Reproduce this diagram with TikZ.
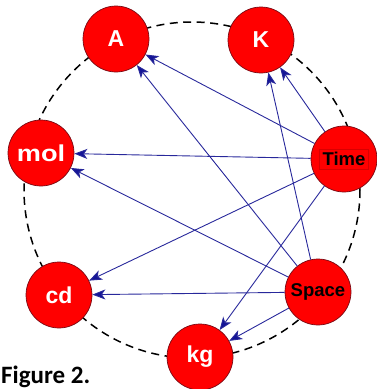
\documentclass[tikz,border=0pt]{standalone}
\usepackage{fontspec}
\setmainfont{Liberation Sans}
\newfontfamily\figfont{Carlito}
\usetikzlibrary{arrows.meta}
\definecolor{nodered}{RGB}{255,0,0}
\definecolor{rimred}{RGB}{120,10,20}
\definecolor{arrblue}{RGB}{40,40,155}
\definecolor{headblue}{RGB}{20,20,150}
\begin{document}
\begin{tikzpicture}[x=1pt,y=-1pt,
  unit/.style={circle,fill=nodered,draw=rimred,line width=0.7pt,minimum size=66pt,inner sep=0pt},
  wlab/.style={text=white,font=\bfseries\fontsize{23}{23}\selectfont},
  blab/.style={text=black,font=\bfseries\fontsize{18.5}{18.5}\selectfont},
  arr/.style={draw=arrblue,line width=0.9pt,-{Stealth[length=13pt,width=10pt,inset=3.5pt,fill=headblue]}},
  ring/.style={draw=black,line width=1.5pt,dash pattern=on 8pt off 5.5pt}]
\useasboundingbox (0,0) rectangle (377,389);
\draw[ring] (192,190) circle (168);
\node[unit,wlab] (A) at (116,39) {A};
\node[unit,wlab] (K) at (261,40) {K};
\node[unit,wlab] (mol) at (41,153) {\scalebox{1.18}[1]{mol}};
\node[unit] (Time) at (344,159) {};
\node[blab,draw=red!85!black,line width=0.3pt,inner sep=3pt] (Timelab) at (Time) {Time};
\node[unit,wlab] (cd) at (59,295) {cd};
\node[unit,blab] (Space) at (318,292) {Space};
\node[unit,wlab] (kg) at (200,357) {kg};
\draw[arr] (Time) -- (A);
\draw[arr] (Time) -- (K);
\draw[arr] (Time) -- (mol);
\draw[arr] (Time) -- (cd);
\draw[arr] (Time) -- (kg);
\draw[arr] (Space) -- (A);
\draw[arr] (Space) -- (K);
\draw[arr] (Space) -- (mol);
\draw[arr] (Space) -- (cd);
\draw[arr] (Space) -- (kg);
\node[anchor=base west,inner sep=0pt,font=\figfont\bfseries\fontsize{25}{25}\selectfont] (fig) at (1,383) {Figure 2.};
\end{tikzpicture}
\end{document}
